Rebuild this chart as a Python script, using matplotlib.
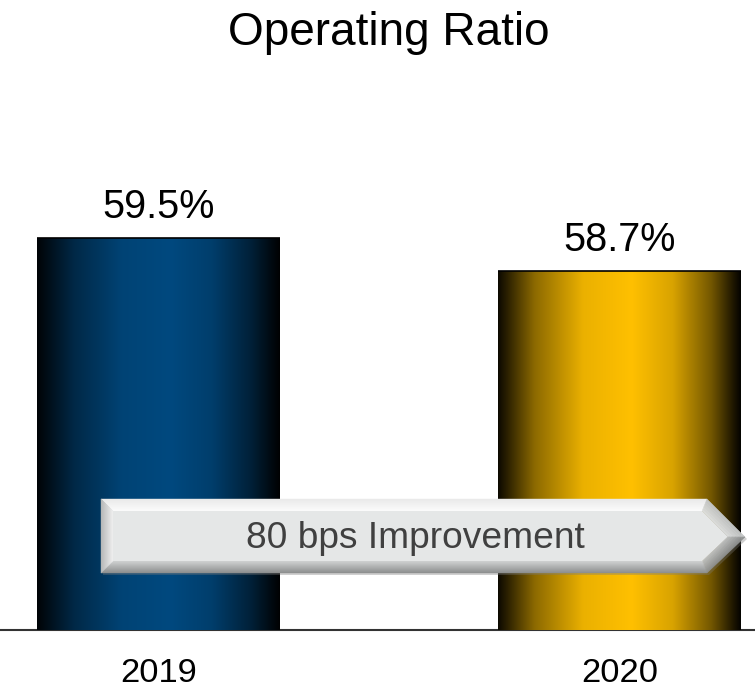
import numpy as np
import matplotlib

matplotlib.use("Agg")
import matplotlib.pyplot as plt
from matplotlib.colors import to_rgb
from matplotlib.patches import Polygon

# --- data -------------------------------------------------------------------
years = ["2019", "2020"]
ratios = [59.5, 58.7]
labels = ["59.5%", "58.7%"]
arrow_text = "80 bps Improvement"
title = "Operating Ratio"

BAR_COLORS = ["#00497f", "#ffc000"]
FONT = ["Liberation Sans", "DejaVu Sans"]
plt.rcParams["font.family"] = FONT

W, H = 755, 691
fig = plt.figure(figsize=(W / 100, H / 100), dpi=100)
ax = fig.add_axes([0, 61 / H, 1, 630 / H])

x = np.arange(len(years))
bars = ax.bar(x, ratios, width=0.527, color="none", edgecolor="none")
ax.set_xlim(-0.344, 1.294)
ax.set_ylim(50.0, 65.27)

# horizontal "cylinder" shading, clipped to each bar
prof_t = [0.0, 0.04, 0.15, 0.35, 0.55, 0.72, 0.88, 0.97, 1.0]
prof_v = [0.05, 0.18, 0.55, 0.92, 1.0, 0.85, 0.45, 0.12, 0.02]
t = np.linspace(0, 1, 256)
shade = np.interp(t, prof_t, prof_v)
for bar, col in zip(bars, BAR_COLORS):
    rgb = np.array(to_rgb(col))
    img = (shade[:, None] * rgb[None, :])[None, :, :]
    x0, w = bar.get_x(), bar.get_width()
    im = ax.imshow(img, extent=[x0, x0 + w, 50.0, bar.get_height()],
                   aspect="auto", interpolation="bilinear", zorder=2)
    im.set_clip_path(bar)
    ax.plot([x0, x0 + w], [bar.get_height()] * 2, color="black", lw=1.2,
            zorder=3, solid_capstyle="butt")

for bar, lab in zip(bars, labels):
    ax.annotate(lab, (bar.get_x() + bar.get_width() / 2, bar.get_height()),
                xytext=(0, 14.4), textcoords="offset points", ha="center",
                va="baseline", fontsize=28.5, color="black")

# category labels under the baseline
for xi, yr in zip(x, years):
    ax.annotate(yr, (xi, 50.0), xytext=(0, -37.4), textcoords="offset points",
                ha="center", va="baseline", fontsize=24.8, color="black",
                annotation_clip=False)

for s in ["top", "left", "right"]:
    ax.spines[s].set_visible(False)
ax.spines["bottom"].set_color("#333333")
ax.spines["bottom"].set_linewidth(1.5)
ax.spines["bottom"].set_zorder(1)
ax.set_yticks([])
ax.set_xticks([])

# --- bevelled arrow banner, geometry in axes pixels (y up) -------------------
outline = np.array([(101, 131), (707, 131), (745, 93), (707, 57), (101, 57)],
                   dtype=float)


def inset(poly, d):
    """Offset a convex polygon inward by d pixels."""
    c = poly.mean(axis=0)
    n = len(poly)
    lines = []
    for i in range(n):
        p, q = poly[i], poly[(i + 1) % n]
        e = q - p
        nrm = np.array([-e[1], e[0]]) / np.hypot(*e)
        if np.dot(c - p, nrm) < 0:
            nrm = -nrm
        lines.append((p + nrm * d, e))
    out = []
    for i in range(n):
        (p1, e1), (p2, e2) = lines[i - 1], lines[i]
        a = np.array([e1, -e2]).T
        s = np.linalg.solve(a, p2 - p1)
        out.append(p1 + e1 * s[0])
    return np.array(out)


def to_ax(pts):
    return np.column_stack([pts[:, 0] / 755, pts[:, 1] / 630])


# shading per side (outer colour, inner colour): top, upper diag, lower diag,
# bottom, left
side_cols = [("#e9e9e9", "#fbfbfb"), ("#c4c6c6", "#e2e4e4"),
             ("#8c8e8e", "#c2c4c4"), ("#8a8c8c", "#cfd1d1"),
             ("#b4b6b6", "#eeeeee")]
FACE = "#e5e7e7"
BEVEL = 12
shadow = outline + np.array([2.0, -2.0])
ax.add_patch(Polygon(to_ax(shadow), closed=True, transform=ax.transAxes,
                     facecolor="#7a7a7a", edgecolor="none", alpha=0.35,
                     zorder=4))
steps = 12
for k in range(steps):
    outer = inset(outline, BEVEL * k / steps)
    inner = inset(outline, BEVEL * (k + 1) / steps)
    f = (k + 0.5) / steps
    for i, (co, ci) in enumerate(side_cols):
        j = (i + 1) % len(outline)
        quad = np.array([outer[i], outer[j], inner[j], inner[i]])
        col = np.array(to_rgb(co)) + (np.array(to_rgb(ci)) - np.array(to_rgb(co))) * f
        ax.add_patch(Polygon(to_ax(quad), closed=True, transform=ax.transAxes,
                             facecolor=col, edgecolor=col, lw=0.3, zorder=5))
ax.add_patch(Polygon(to_ax(inset(outline, BEVEL)), closed=True,
                     transform=ax.transAxes, facecolor=FACE, edgecolor="none",
                     zorder=6))
ax.text(415 / 755, (630 - 538) / 630, arrow_text, transform=ax.transAxes,
        ha="center", va="center", fontsize=26.7, color="#404040", zorder=7)

fig.text(389 / W, 1 - 45 / H, title, ha="center", va="baseline",
         fontsize=33, color="black")

fig.savefig("out.png", dpi=100)
